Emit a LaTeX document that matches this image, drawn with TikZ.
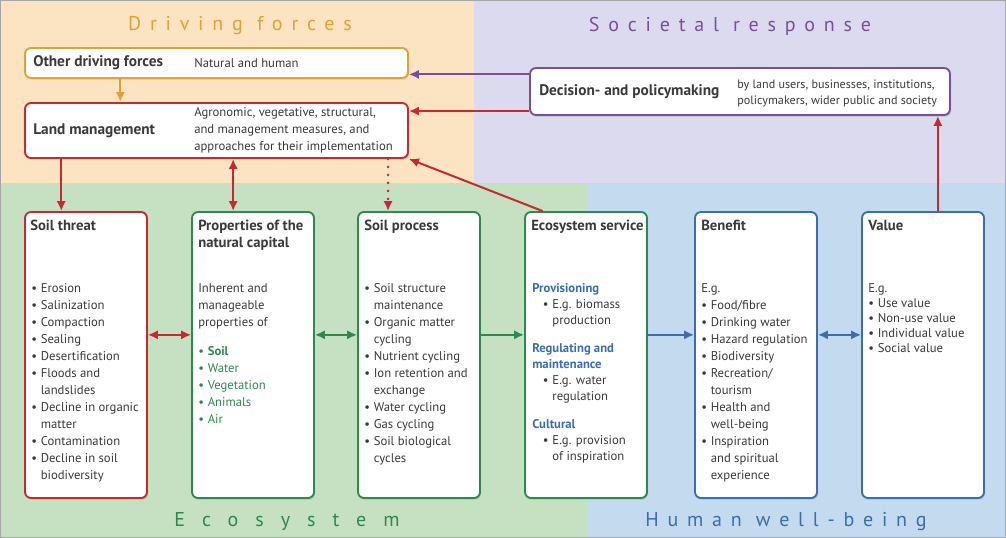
\documentclass[tikz,border=0pt]{standalone}
\usepackage{fontspec}
\setmainfont{PT Sans}
\newfontfamily\titlefont[LetterSpace=44]{PT Sans}
\newfontfamily\widetitlefont[LetterSpace=85]{PT Sans}
\usetikzlibrary{arrows.meta, positioning, calc, shadows}
\definecolor{bgorange}{HTML}{FCE4C2}
\definecolor{bglav}{HTML}{DCDAEF}
\definecolor{bggreen}{HTML}{C6E1C1}
\definecolor{bgblue}{HTML}{C3DAEF}
\definecolor{corange}{HTML}{E3A033}
\definecolor{cred}{HTML}{C52A32}
\definecolor{cpurple}{HTML}{7A4E9C}
\definecolor{cgreen}{HTML}{2E8A4C}
\definecolor{cblue}{HTML}{3A6EAE}
\definecolor{ctext}{HTML}{3A3A3A}
\newcommand{\bl}{\textbullet\hspace{0.3em}}
\newcommand{\hg}{\hphantom{\textbullet\hspace{0.3em}}}
\tikzset{
  areatitle/.style={font=\fontsize{15}{17}\titlefont, inner sep=0pt},
  topbox/.style={rectangle, rounded corners=4.5pt, fill=white, line width=1.4pt,
    inner sep=0pt, drop shadow={shadow xshift=0.8pt, shadow yshift=-1.2pt, opacity=0.3}},
  panel/.style={topbox, minimum width=91.5pt, minimum height=214.5pt},
  headtxt/.style={font=\bfseries\fontsize{11.5}{13}\selectfont, text=ctext, inner sep=0pt, anchor=west},
  desctxt/.style={font=\fontsize{9.5}{12.75}\selectfont, text=ctext, inner sep=0pt, anchor=west, align=left},
  paneltitle/.style={font=\bfseries\fontsize{11}{12.75}\selectfont, text=ctext, inner sep=0pt, anchor=north west, align=left},
  paneltxt/.style={font=\fontsize{9.5}{12.75}\selectfont, text=ctext, inner sep=0pt, anchor=north west, align=left},
  link/.style={line width=1.5pt, -{Latex[length=7.5pt,width=7pt]}},
  dlink/.style={line width=1.5pt, {Latex[length=7.5pt,width=7pt]}-{Latex[length=7.5pt,width=7pt]}}
}
\begin{document}
\begin{tikzpicture}[x=0.75pt, y=-0.75pt]
\useasboundingbox (0,0) rectangle (1006,538);
% four areas
\fill[bgorange] (0,0) rectangle (474,183);
\fill[bglav] (474,0) rectangle (1006,183);
\fill[bggreen] (0,183) rectangle (588,538);
\fill[bgblue] (588,183) rectangle (1006,538);
\draw[gray!70, line width=0.8pt] (0.5,0.5) rectangle (1005.5,537.5);
\node[areatitle, text=corange] (tdrive) at (240,26) {Driving forces};
\node[areatitle, text=cpurple] (tsociety) at (730,26) {Societal response};
\node[areatitle, text=cgreen, font=\fontsize{15}{17}\widetitlefont] (tecosys) at (287,522) {Ecosystem};
\node[areatitle, text=cblue] (thuman) at (786,522) {Human well-being};

% upper boxes
\node[topbox, draw=corange, minimum width=287.25pt, minimum height=22.5pt] (other) at (216.5,63) {};
\node[topbox, draw=cred, minimum width=287.25pt, minimum height=41.25pt] (land) at (216.5,130.5) {};
\node[topbox, draw=cpurple, minimum width=315pt, minimum height=35.25pt] (decision) at (740,91.5) {};
\node[headtxt] (otherH) at (33,63) {Other driving forces};
\node[desctxt] (otherD) at (194,63) {Natural and human};
\node[headtxt] (landH) at (33,131) {Land management};
\node[desctxt] (landD) at (194,130) {Agronomic, vegetative, structural,\\and management measures, and\\approaches for their implementation};
\node[headtxt] (decisionH) at (539,92) {Decision- and policymaking};
\node[desctxt, font=\fontsize{9.1}{12}\selectfont] (decisionD) at (737,93) {by land users, businesses, institutions,\\policymakers, wider public and society};

% lower panels
\node[panel, draw=cred] (threat) at (86,355) {};
\node[panel, draw=cgreen] (props) at (253,355) {};
\node[panel, draw=cgreen] (process) at (419,355) {};
\node[panel, draw=cgreen] (service) at (586,355) {};
\node[panel, draw=cblue] (benefit) at (756,355) {};
\node[panel, draw=cblue] (value) at (923,355) {};

\node[paneltitle] (threatT) at (30,220) {Soil threat};
\node[paneltxt] (threatL) at (31,283) {\bl Erosion\\\bl Salinization\\\bl Compaction\\\bl Sealing\\\bl Desertification\\\bl Floods and\\\hg landslides\\\bl Decline in organic\\\hg matter\\\bl Contamination\\\bl Decline in soil\\\hg biodiversity};
\node[paneltitle] (propsT) at (198,220) {Properties of the\\natural capital};
\node[paneltxt] (propsL) at (198,283) {Inherent and\\manageable\\properties of\\[9pt]
  \color{cgreen}\bl\textbf{Soil}\\\color{cgreen}\bl Water\\\color{cgreen}\bl Vegetation\\\color{cgreen}\bl Animals\\\color{cgreen}\bl Air};
\node[paneltitle] (processT) at (364,220) {Soil process};
\node[paneltxt] (processL) at (364,283) {\bl Soil structure\\\hg maintenance\\\bl Organic matter\\\hg cycling\\\bl Nutrient cycling\\\bl Ion retention and\\\hg exchange\\\bl Water cycling\\\bl Gas cycling\\\bl Soil biological\\\hg cycles};
\node[paneltitle] (serviceT) at (531,220) {Ecosystem service};
\node[paneltxt, font=\fontsize{9.5}{12}\selectfont] (serviceL) at (532,283) {\textcolor{cblue}{\textbf{Provisioning}}\\\hspace*{8pt}\bl E.g. biomass\\\hspace*{8pt}\hg production\\[9pt]
  \textcolor{cblue}{\textbf{Regulating and}}\\\textcolor{cblue}{\textbf{maintenance}}\\\hspace*{8pt}\bl E.g. water\\\hspace*{8pt}\hg regulation\\[9pt]
  \textcolor{cblue}{\textbf{Cultural}}\\\hspace*{8pt}\bl E.g. provision\\\hspace*{8pt}\hg of inspiration};
\node[paneltitle] (benefitT) at (701,220) {Benefit};
\node[paneltxt] (benefitL) at (701,283) {E.g.\\\bl Food/fibre\\\bl Drinking water\\\bl Hazard regulation\\\bl Biodiversity\\\bl Recreation/\\\hg tourism\\\bl Health and\\\hg well-being\\\bl Inspiration\\\hg and spiritual\\\hg experience};
\node[paneltitle] (valueT) at (868,220) {Value};
\node[paneltxt, font=\fontsize{9.5}{11.25}\selectfont] (valueL) at (868,283) {E.g.\\\bl Use value\\\bl Non-use value\\\bl Individual value\\\bl Social value};

% connectors in the upper part
\coordinate (pp) at ($(decision.north west)!0.15!(decision.south west)$);
\draw[link, cpurple] (pp) -- (pp -| other.east);
\coordinate (rp) at ($(decision.north west)!0.9!(decision.south west)$);
\draw[link, cred] (rp) -- (rp -| land.east);
\coordinate (op) at ($(other.south west)!0.25!(other.south east)$);
\draw[link, corange] (op) -- (op |- land.north);
\coordinate (t1) at ($(threat.north west)!0.3!(threat.north east)$);
\draw[link, cred] (t1 |- land.south) -- (t1);
\coordinate (t2) at ($(props.north west)!0.34!(props.north east)$);
\draw[dlink, cred] (t2 |- land.south) -- (t2);
\coordinate (t3) at ($(process.north west)!0.25!(process.north east)$);
\draw[link, cred, line width=2.2pt, dash pattern=on 0pt off 6pt, line cap=round] (t3 |- land.south) -- (t3);
\coordinate (t4) at ($(service.north west)!0.15!(service.north east)$);
\draw[link, cred] (t4) -- (land.south east);
\coordinate (t6) at ($(value.north west)!0.62!(value.north east)$);
\draw[link, cred] (t6) -- (t6 |- decision.south);

% connectors between the panels
\coordinate (h1) at ($(threat.north east)!0.43!(threat.south east)$);
\draw[dlink, cred] (h1) -- (h1 -| props.west);
\coordinate (h2) at ($(props.north east)!0.43!(props.south east)$);
\draw[dlink, cgreen] (h2) -- (h2 -| process.west);
\coordinate (h3) at ($(process.north east)!0.43!(process.south east)$);
\draw[link, cgreen] (h3) -- (h3 -| service.west);
\coordinate (h4) at ($(service.north east)!0.43!(service.south east)$);
\draw[link, cblue] (h4) -- (h4 -| benefit.west);
\coordinate (h5) at ($(benefit.north east)!0.43!(benefit.south east)$);
\draw[dlink, cblue] (h5) -- (h5 -| value.west);
\end{tikzpicture}
\end{document}
